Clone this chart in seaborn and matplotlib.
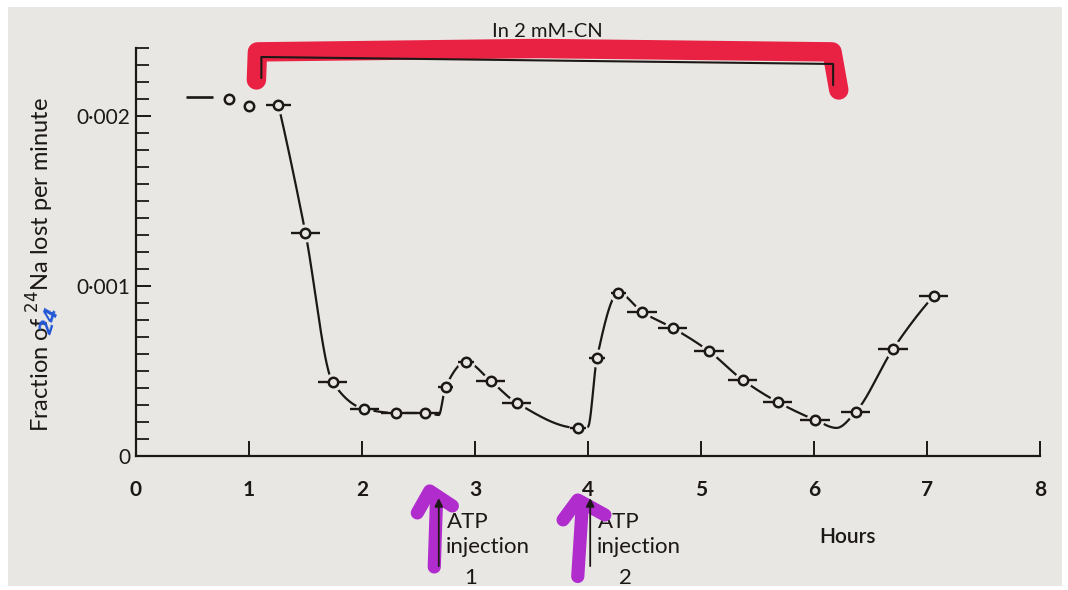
import numpy as np
import matplotlib
matplotlib.use("Agg")
import matplotlib.pyplot as plt
from matplotlib.patches import Rectangle
from matplotlib.ticker import MultipleLocator
import seaborn as sns

# ---- data -------------------------------------------------------------
# Efflux readings: time (hours), fraction of 24Na lost per minute,
# and half-width of each collection period (hours)
hours = [0.82, 1.00, 1.26, 1.50, 1.74, 2.02, 2.30, 2.56, 2.74, 2.92, 3.14, 3.37,
         3.91, 4.08, 4.27, 4.48, 4.75, 5.07, 5.37, 5.68, 6.01, 6.37, 6.70, 7.06]
efflux = [0.00210, 0.00206, 0.00207, 0.001315, 0.000438, 0.000280, 0.000256,
          0.000256, 0.000409, 0.000556, 0.000444, 0.000315, 0.000168, 0.000580,
          0.000962, 0.000850, 0.000756, 0.000620, 0.000450, 0.000320, 0.000215,
          0.000262, 0.000632, 0.000944]
half_period = [0.0, 0.0, 0.11, 0.13, 0.13, 0.13, 0.13, 0.13, 0.07, 0.07, 0.13, 0.13,
               0.07, 0.07, 0.07, 0.13, 0.13, 0.13, 0.13, 0.13, 0.13, 0.13, 0.13, 0.13]

# First collection period (bar only)
first_hour = [0.56]
first_efflux = [0.002115]
first_half = [0.12]

# Knots of the hand-drawn curve through the readings
curve_hours = [1.26, 1.50, 1.74, 2.02, 2.30, 2.56, 2.68, 2.74, 2.92, 3.14, 3.37,
               3.91, 4.00, 4.08, 4.27, 4.48, 4.75, 5.07, 5.37, 5.68, 6.01, 6.20,
               6.37, 6.70, 7.06]
curve_values = [0.00207, 0.001315, 0.000438, 0.000280, 0.000256, 0.000256, 0.000244,
                0.000409, 0.000556, 0.000444, 0.000315, 0.000168, 0.000174, 0.000580,
                0.000962, 0.000850, 0.000756, 0.000620, 0.000450, 0.000320, 0.000215,
                0.000168, 0.000262, 0.000632, 0.000944]

# Cyanide exposure period and ATP injection times (hours)
cyanide_start, cyanide_end = 1.11, 6.17
atp_times = [2.68, 4.02]

x_ticks = [0, 1, 2, 3, 4, 5, 6, 7, 8]
x_tick_labels = ["0", "1", "2", "3", "4", "5", "6", "7", "8"]
y_ticks = [0, 0.001, 0.002]
y_tick_labels = ["0", "0·001", "0·002"]


def pchip(x, y, xs):
    """Shape-preserving cubic through the knots."""
    x = np.asarray(x, float)
    y = np.asarray(y, float)
    h = np.diff(x)
    d = np.diff(y) / h
    m = np.zeros_like(y)
    for k in range(1, len(x) - 1):
        if d[k - 1] * d[k] > 0:
            w1 = 2 * h[k] + h[k - 1]
            w2 = h[k] + 2 * h[k - 1]
            m[k] = (w1 + w2) / (w1 / d[k - 1] + w2 / d[k])

    def end(h0, h1, d0, d1):
        mm = ((2 * h0 + h1) * d0 - h0 * d1) / (h0 + h1)
        if np.sign(mm) != np.sign(d0):
            return 0.0
        if np.sign(d0) != np.sign(d1) and abs(mm) > abs(3 * d0):
            return 3 * d0
        return mm

    m[0] = end(h[0], h[1], d[0], d[1])
    m[-1] = end(h[-1], h[-2], d[-1], d[-2])
    idx = np.clip(np.searchsorted(x, xs) - 1, 0, len(h) - 1)
    t = (xs - x[idx]) / h[idx]
    h00 = 2 * t**3 - 3 * t**2 + 1
    h10 = t**3 - 2 * t**2 + t
    h01 = -2 * t**3 + 3 * t**2
    h11 = t**3 - t**2
    return (y[idx] * h00 + h[idx] * m[idx] * h10
            + y[idx + 1] * h01 + h[idx] * m[idx + 1] * h11)


# ---- style ------------------------------------------------------------
sns.set_theme(style="ticks")
plt.rcParams["font.family"] = ["Lato", "DejaVu Sans"]
ink = "#1c1816"
paper = "#e9e7e4"
marker_red = "#e9163a"
marker_violet = "#b02ccc"

fig = plt.figure(figsize=(10.68, 5.90), dpi=100, facecolor="white")
fig.patches.append(Rectangle((0.0075, 0.0068), 0.9869, 0.9814,
                             transform=fig.transFigure, facecolor=paper,
                             edgecolor="none", zorder=-10))
ax = fig.add_axes([0.1273, 0.2263, 0.8464, 0.6915])
ax.set_facecolor("none")

# ---- curve and readings -----------------------------------------------
xs = np.linspace(curve_hours[0], curve_hours[-1], 800)
ys = pchip(curve_hours, curve_values, xs)
sns.lineplot(x=xs, y=ys, ax=ax, color=ink, lw=1.6, estimator=None, sort=False,
             zorder=2)

ax.plot(hours, efflux, "o", ms=12, color=paper, zorder=3)
ax.errorbar(hours, efflux, xerr=half_period, fmt="none", ecolor=ink,
            elinewidth=1.7, capsize=0, zorder=4)
ax.errorbar(first_hour, first_efflux, xerr=first_half, fmt="none", ecolor=ink,
            elinewidth=1.9, capsize=0, zorder=4)
sns.scatterplot(x=hours, y=efflux, ax=ax, s=46, color=paper, edgecolor=ink,
                linewidth=1.8, zorder=5)

# ---- axes -------------------------------------------------------------
ax.set_xlim(0, 8)
ax.set_ylim(0, 0.0024)
sns.despine(ax=ax)
for side in ("left", "bottom"):
    ax.spines[side].set_color(ink)
    ax.spines[side].set_linewidth(1.6)

ax.set_xticks(x_ticks)
ax.set_xticklabels(x_tick_labels, fontsize=15, fontweight="bold", color=ink)
ax.set_yticks(y_ticks)
ax.set_yticklabels(y_tick_labels, fontsize=15, color=ink)
ax.yaxis.set_minor_locator(MultipleLocator(0.0001))
ax.tick_params(axis="x", direction="in", length=11, width=1.4, pad=17, colors=ink)
ax.tick_params(axis="y", which="major", direction="in", length=11, width=1.4,
               pad=4, colors=ink)
ax.tick_params(axis="y", which="minor", direction="in", length=9, width=1.3,
               colors=ink)

ax.set_ylabel("Fraction of $^{24}$Na lost per minute", fontsize=17, color=ink)
ax.yaxis.set_label_coords(-0.088, 0.47)
ax.text(-0.76, 0.00080, "24", fontsize=14, color="#2157d6", rotation=72,
        style="italic", ha="center", va="center", clip_on=False,
        family="DejaVu Sans", fontweight="bold", zorder=8)

ax.text(6.30, -0.000474, "Hours", fontsize=15, fontweight="semibold",
        color=ink, ha="center", va="center", clip_on=False)

# ---- cyanide bracket ---------------------------------------------------
ax.plot([1.066, 1.075, 3.56, 6.16, 6.22], [0.002215, 0.00238, 0.00240, 0.00238, 0.002156],
        color=marker_red, lw=14, alpha=0.95, solid_capstyle="round",
        solid_joinstyle="round", clip_on=False, zorder=6)
ax.plot([cyanide_start, cyanide_start, cyanide_end, cyanide_end],
        [0.002226, 0.00235, 0.002309, 0.002185],
        color=ink, lw=1.5, clip_on=False, zorder=7)
ax.text((cyanide_start + cyanide_end) / 2, 0.0025, "In 2 mM-CN",
        fontsize=14.5, color=ink, ha="center", va="center", clip_on=False)

# ---- ATP injections ----------------------------------------------------
violet_strokes = [
    ([2.64, 2.66], [-0.000650, -0.000250]),
    ([2.49, 2.60, 2.80], [-0.000332, -0.000203, -0.000291]),
    ([3.91, 3.95], [-0.000706, -0.000290]),
    ([3.78, 3.91, 4.15], [-0.000373, -0.000256, -0.000344]),
]
for sx, sy in violet_strokes:
    ax.plot(sx, sy, color=marker_violet, lw=9.5, solid_capstyle="round",
            solid_joinstyle="round", clip_on=False, zorder=6)

for t in atp_times:
    ax.annotate("", xy=(t, -0.000245), xytext=(t, -0.000645),
                arrowprops=dict(arrowstyle="-|>", color=ink, lw=1.3,
                                mutation_scale=12, shrinkA=0, shrinkB=0),
                annotation_clip=False, zorder=7)

for t, num, num_x in [(atp_times[0], "1", 2.965), (atp_times[1], "2", 4.33)]:
    ax.text(t + 0.07, -0.000385, "ATP", fontsize=16, color=ink,
            ha="left", va="center", clip_on=False)
    ax.text(t + 0.06, -0.000535, "injection", fontsize=16, color=ink,
            ha="left", va="center", clip_on=False)
    ax.text(num_x, -0.000712, num, fontsize=16, color=ink,
            ha="center", va="center", clip_on=False)

fig.savefig("out.png", dpi=100, facecolor="white")
